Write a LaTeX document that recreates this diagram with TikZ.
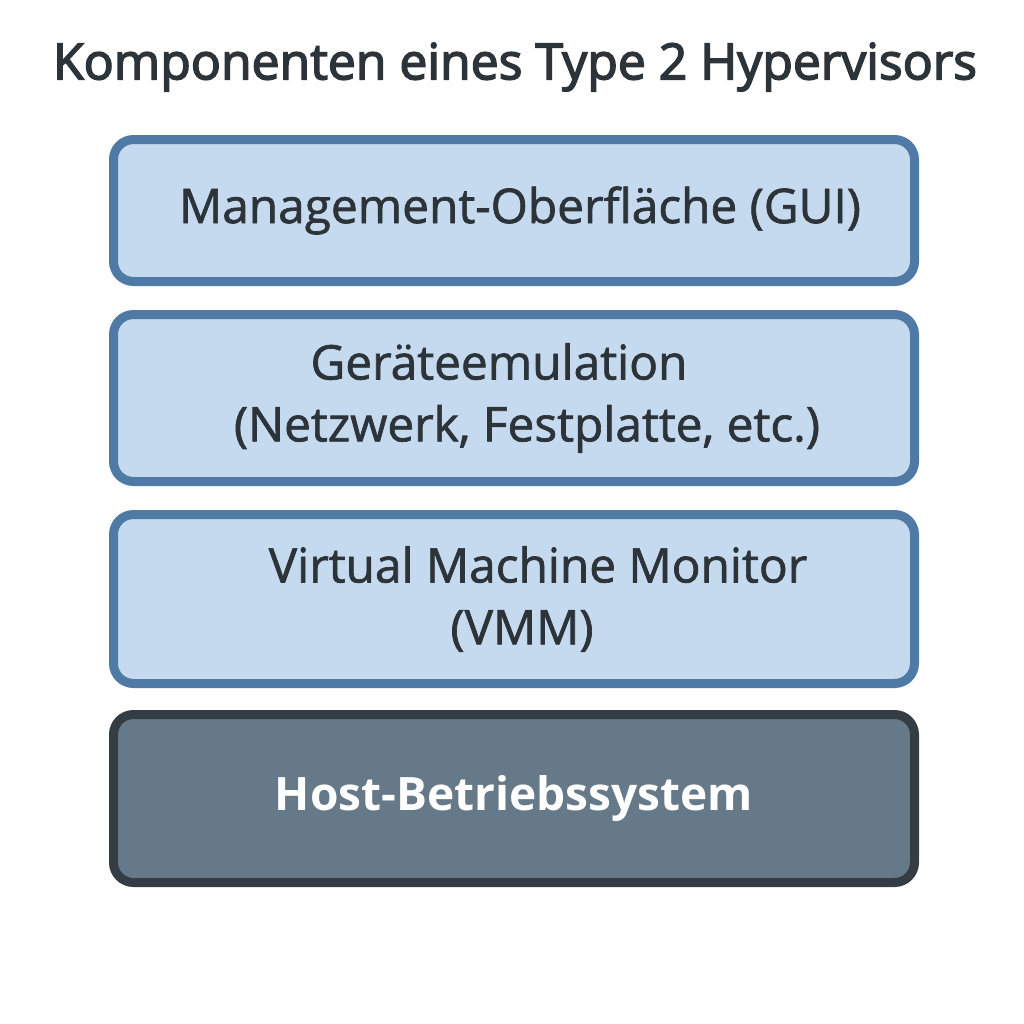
\documentclass[tikz,border=0pt]{standalone}
\usepackage{fontspec}
\setmainfont{Open Sans}
\definecolor{layerfill}{HTML}{C5DAEE}
\definecolor{layerline}{HTML}{4E7AA5}
\definecolor{hostfill}{HTML}{667988}
\definecolor{hostline}{HTML}{343C44}
\definecolor{textdark}{HTML}{2C3339}
\begin{document}
\begin{tikzpicture}
				\tikzstyle{Layer} = [rectangle, rounded corners=0.2cm, draw=layerline, fill=layerfill, line width=0.09cm, minimum width=8.01cm, inner sep=0pt, text=textdark, align=center, font=\fontsize{13.6}{17.6}\selectfont\addfontfeature{FakeBold=1.4}]
				\tikzstyle{Host} = [Layer, draw=hostline, fill=hostfill, text=white, font=\fontsize{13.1}{17.6}\selectfont\bfseries]
				\useasboundingbox (0,0) rectangle (10.24,-10.24);
				\node (T) at (5.15,-0.67) [text=textdark, font=\fontsize{14.2}{17}\selectfont\addfontfeature{FakeBold=3}] {Komponenten eines Type 2 Hypervisors};
				\node (1) at (5.14,-2.105) [Layer, minimum height=1.42cm] {\hspace*{0.12cm}Management-Oberfläche (GUI)};
				\node (2) at (5.14,-3.98) [Layer, minimum height=1.67cm] {Geräteemulation\hspace*{0.3cm}\\\hspace*{0.26cm}(Netzwerk, Festplatte, etc.)};
				\node (3) at (5.14,-5.99) [Layer, minimum height=1.69cm] {\hspace*{0.48cm}Virtual Machine Monitor\\\hspace*{0.16cm}(VMM)};
				\node (4) at (5.14,-7.985) [Host, minimum height=1.68cm] {Host-Betriebssystem};
			\end{tikzpicture}
\end{document}
